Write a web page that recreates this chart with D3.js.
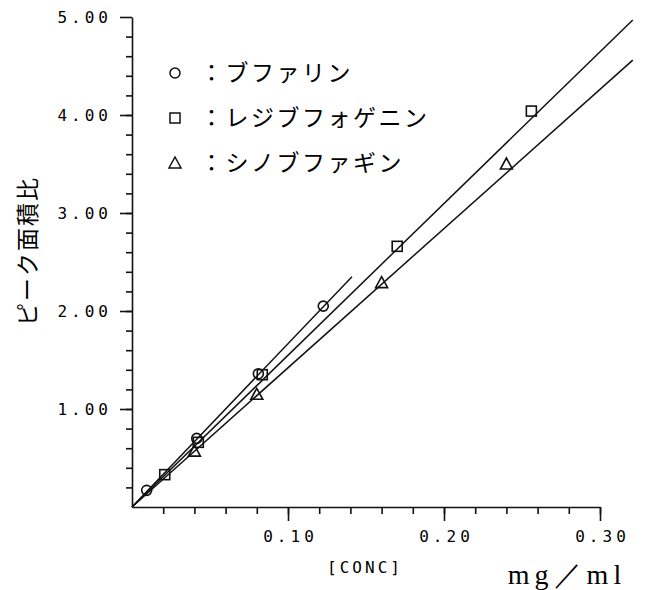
<!DOCTYPE html>
<html>
<head>
<meta charset="utf-8">
<script src="https://cdn.jsdelivr.net/npm/d3@7"></script>
<style>
  body { margin: 0; background: #fff; }
  svg { display: block; }
</style>
</head>
<body>
<div id="chart"></div>
<script>
// values
const bufalinConc = [0.0094, 0.0415, 0.081, 0.1226];
const bufalinRatio = [0.17, 0.70, 1.36, 2.05];
const resibufogeninConc = [0.021, 0.0425, 0.0835, 0.170, 0.256];
const resibufogeninRatio = [0.33, 0.66, 1.35, 2.66, 4.04];
const cinobufaginConc = [0.040, 0.080, 0.160, 0.240];
const cinobufaginRatio = [0.57, 1.15, 2.29, 3.50];

// regression line end points (each starts at the origin)
const fitConc = [0.141, 0.321, 0.321];
const fitRatio = [2.35, 4.97, 4.56];

const seriesNames = ["ブファリン", "レジブフォゲニン", "シノブファギン"];
const markerShapes = ["circle", "square", "triangle"];

const xTicks = [0.10, 0.20, 0.30];
const xTickLabels = ["0.10", "0.20", "0.30"];
const yTicks = [1, 2, 3, 4, 5];
const yTickLabels = ["1.00", "2.00", "3.00", "4.00", "5.00"];

const width = 670;
const height = 590;

const svg = d3.select("#chart")
  .append("svg")
  .attr("width", width)
  .attr("height", height);

const x = d3.scaleLinear().domain([0, 0.30]).range([132, 600]);
const y = d3.scaleLinear().domain([0, 5]).range([507, 17]);

const monoFont = "'DejaVu Sans Mono', monospace";
const jpFont = "'Noto Sans CJK JP', sans-serif";

//------------------- axes -------------------
const xMinor = svg.append("g")
  .attr("transform", "translate(0," + y(0) + ")")
  .call(d3.axisBottom(x).tickValues(d3.range(1, 16).map((i) => i * 0.02)).tickSize(7).tickFormat(""));
xMinor.select(".domain").remove();

const xAxis = svg.append("g")
  .attr("transform", "translate(0," + y(0) + ")")
  .call(d3.axisBottom(x).tickValues(xTicks).tickSize(14).tickPadding(10)
    .tickFormat((d, i) => xTickLabels[i]).tickSizeOuter(0));
xAxis.selectAll("text")
  .style("font-family", monoFont)
  .style("font-size", "16px")
  .style("letter-spacing", "4px")
  .attr("dx", "2px");

const yMinor = svg.append("g")
  .attr("transform", "translate(" + x(0) + ",0)")
  .call(d3.axisLeft(y).tickValues(d3.range(1, 25).map((i) => i * 0.2)).tickSize(6).tickFormat(""));
yMinor.select(".domain").remove();

const yAxis = svg.append("g")
  .attr("transform", "translate(" + x(0) + ",0)")
  .call(d3.axisLeft(y).tickValues(yTicks).tickSize(12).tickPadding(8)
    .tickFormat((d, i) => yTickLabels[i]).tickSizeOuter(0));
yAxis.selectAll("text")
  .style("font-family", monoFont)
  .style("font-size", "16px")
  .style("letter-spacing", "4px");

svg.selectAll(".domain, .tick line")
  .attr("stroke", "#111")
  .attr("stroke-width", 1.6);

// axis titles
svg.append("text")
  .attr("x", 365)
  .attr("y", 573)
  .attr("text-anchor", "middle")
  .style("font-family", monoFont)
  .style("font-size", "16px")
  .style("letter-spacing", "3px")
  .text("[CONC]");

svg.append("text")
  .attr("x", 567)
  .attr("y", 584)
  .attr("text-anchor", "middle")
  .style("font-family", "'Liberation Serif', serif")
  .style("font-size", "28px")
  .style("letter-spacing", "5px")
  .text("mg／ml");

svg.append("text")
  .attr("transform", "translate(36,251) rotate(-90)")
  .attr("text-anchor", "middle")
  .style("font-family", jpFont)
  .style("font-size", "23px")
  .style("letter-spacing", "2px")
  .text("ピーク面積比");

//------------------- fit lines -------------------
svg.append("g")
  .selectAll("line")
  .data(fitConc)
  .enter()
  .append("line")
  .attr("x1", x(0))
  .attr("y1", y(0))
  .attr("x2", (d) => x(d))
  .attr("y2", (d, i) => y(fitRatio[i]))
  .attr("stroke", "#111")
  .attr("stroke-width", 1.5);

//------------------- markers -------------------
function drawMarker(g, shape, cx, cy) {
  if (shape === "circle") {
    g.append("circle").attr("cx", cx).attr("cy", cy).attr("r", 5);
  } else if (shape === "square") {
    g.append("rect").attr("x", cx - 5).attr("y", cy - 5).attr("width", 10).attr("height", 10);
  } else {
    g.append("path").attr("d", "M" + cx + "," + (cy - 6) + "L" + (cx + 6) + "," + (cy + 5) + "L" + (cx - 6) + "," + (cy + 5) + "Z");
  }
}

const seriesConc = [bufalinConc, resibufogeninConc, cinobufaginConc];
const seriesRatio = [bufalinRatio, resibufogeninRatio, cinobufaginRatio];

const markers = svg.append("g")
  .attr("fill", "none")
  .attr("stroke", "#111")
  .attr("stroke-width", 1.6);

seriesConc.forEach((concs, s) => {
  concs.forEach((c, i) => {
    drawMarker(markers, markerShapes[s], x(c), y(seriesRatio[s][i]));
  });
});

//------------------- legend -------------------
const legend = svg.append("g");
const legendMarks = legend.append("g")
  .attr("fill", "none")
  .attr("stroke", "#111")
  .attr("stroke-width", 1.5);

seriesNames.forEach((name, i) => {
  const ly = 73 + i * 45;
  drawMarker(legendMarks, markerShapes[i], 175, ly);
  legend.append("text")
    .attr("x", 200)
    .attr("y", ly + 8)
    .style("font-family", jpFont)
    .style("font-size", "23px")
    .style("letter-spacing", "2.5px")
    .text("：" + name);
});
</script>
</body>
</html>
